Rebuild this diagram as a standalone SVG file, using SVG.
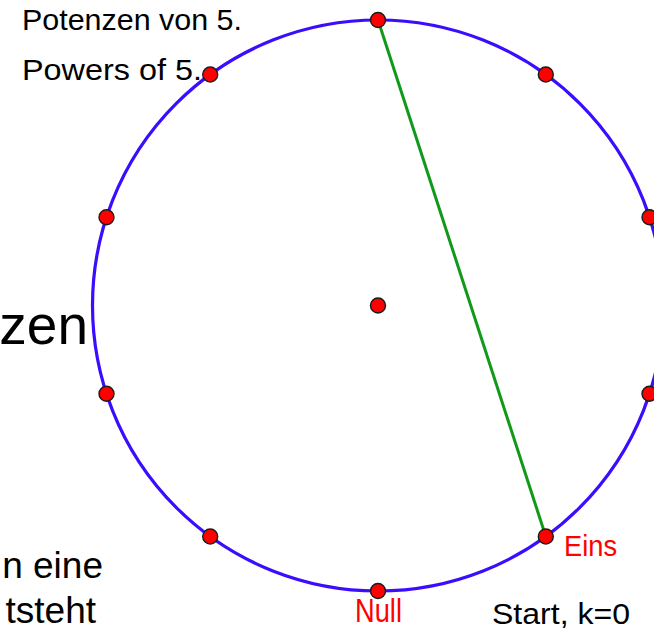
<svg xmlns="http://www.w3.org/2000/svg" width="654" height="634" viewBox="0 0 654 634">
<style>
.bg{fill:#fff}
.circ{fill:none;stroke:#3a0dff;stroke-width:3.2}
.seg{stroke:#11991a;stroke-width:3;fill:none}
.pt{fill:#ff0000;stroke:#1a1a1a;stroke-width:1.4}
.lbl{font-family:"Liberation Sans","Arial",sans-serif;fill:#000}
.red{font-family:"Liberation Sans","Arial",sans-serif;fill:#ff0000}
</style>
<rect class="bg" x="0" y="0" width="654" height="634"/>
<g id="bgtext">
<text class="lbl" x="88" y="344" font-size="55" text-anchor="end">zen</text>
<text class="lbl" x="103" y="578" font-size="37" text-anchor="end">n eine</text>
<text class="lbl" x="96" y="623" font-size="37" text-anchor="end">tsteht</text>
</g>
<g id="titles">
<text class="lbl" x="22" y="30" font-size="30" textLength="220" lengthAdjust="spacingAndGlyphs">Potenzen von 5.</text>
<text class="lbl" x="22" y="80" font-size="30" textLength="180" lengthAdjust="spacingAndGlyphs">Powers of 5.</text>
</g>
<g id="circle"><circle class="circ" cx="378" cy="305.5" r="285.5"/></g>
<g id="connectors"><line class="seg" x1="378" y1="20" x2="545.8" y2="536.5"/></g>
<g id="p0"><circle class="pt" cx="378" cy="20" r="7.5"/></g>
<g id="p1"><circle class="pt" cx="545.8" cy="74.5" r="7.5"/></g>
<g id="p2"><circle class="pt" cx="649.5" cy="217.3" r="7.5"/></g>
<g id="p3"><circle class="pt" cx="649.5" cy="393.7" r="7.5"/></g>
<g id="p4"><circle class="pt" cx="545.8" cy="536.5" r="7.5"/><text class="red" x="564" y="556" font-size="30" textLength="53" lengthAdjust="spacingAndGlyphs">Eins</text></g>
<g id="p5"><circle class="pt" cx="378" cy="591" r="7.5"/><text class="red" x="355" y="622" font-size="33" textLength="47" lengthAdjust="spacingAndGlyphs">Null</text></g>
<g id="p6"><circle class="pt" cx="210.2" cy="536.5" r="7.5"/></g>
<g id="p7"><circle class="pt" cx="106.5" cy="393.7" r="7.5"/></g>
<g id="p8"><circle class="pt" cx="106.5" cy="217.3" r="7.5"/></g>
<g id="p9"><circle class="pt" cx="210.2" cy="74.5" r="7.5"/></g>
<g id="center"><circle class="pt" cx="378" cy="305.5" r="7.5"/></g>
<g id="status"><text class="lbl" x="492" y="624" font-size="30" textLength="138" lengthAdjust="spacingAndGlyphs">Start, k=0</text></g>
</svg>
